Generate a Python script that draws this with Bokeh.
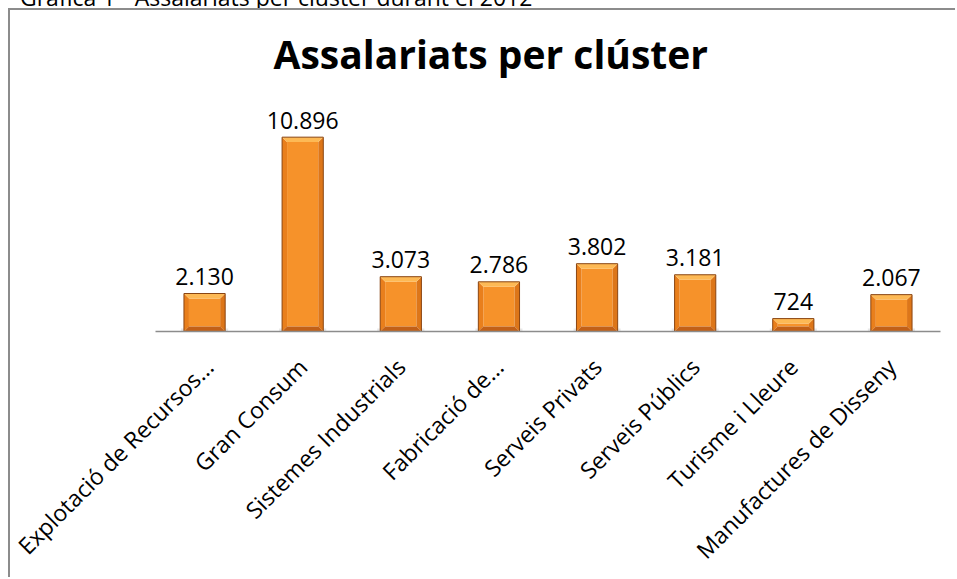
import math
from bokeh.plotting import figure
from bokeh.models import Range1d, FixedTicker, Div
from bokeh.layouts import column
from bokeh.core.properties import value
from bokeh.embed import file_html
from bokeh.resources import INLINE

caption = "Gràfica 1 - Assalariats per clúster durant el 2012"
categories = ["Explotació de Recursos...", "Gran Consum", "Sistemes Industrials",
              "Fabricació de...", "Serveis Privats", "Serveis Públics",
              "Turisme i Lleure", "Manufactures de Disseny"]
employees = [2130, 10896, 3073, 2786, 3802, 3181, 724, 2067]
value_labels = ["2.130", "10.896", "3.073", "2.786", "3.802", "3.181", "724", "2.067"]

xs = list(range(len(categories)))
Y_END = 13400

W, H = 947, 569
p = figure(width=W, height=H, output_backend="svg", toolbar_location=None,
           x_range=Range1d(-0.5, len(categories) - 0.5), y_range=Range1d(0, Y_END),
           min_border_left=145, min_border_right=17, min_border_top=82, min_border_bottom=246)
p.styles = {"margin-left": "8px",
            "border-left": "2px solid #8c8c8c", "border-top": "2px solid #8c8c8c"}
p.outline_line_color = None
p.grid.visible = False
p.yaxis.visible = False

p.title.text = "Assalariats per clúster"
p.title.text_font = "Open Sans"
p.title.text_font_style = "bold"
p.title.text_font_size = "39px"
p.title.align = "left"
p.title.offset = 118
p.title.standoff = 25
p.title.text_color = "black"

frame_w = 940 - 155
frame_h = 333 - 92
px_x = len(categories) / frame_w
px_y = Y_END / frame_h
bw = 0.42
bx = 5 * px_x
by = 5 * px_y

top_x, top_y, left_x, left_y, right_x, right_y, bot_x, bot_y = [], [], [], [], [], [], [], []
face_l, face_r, face_b, face_t = [], [], [], []
for x, v in zip(xs, employees):
    l, r = x - bw / 2, x + bw / 2
    b_ = min(by, v / 2.5)
    top_x.append([l, r, r - bx, l + bx]); top_y.append([v, v, v - b_, v - b_])
    bot_x.append([l, r, r - bx, l + bx]); bot_y.append([0, 0, b_, b_])
    left_x.append([l, l + bx, l + bx, l]); left_y.append([0, b_, v - b_, v])
    right_x.append([r, r - bx, r - bx, r]); right_y.append([0, b_, v - b_, v])
    face_l.append(l + bx); face_r.append(r - bx); face_b.append(b_); face_t.append(v - b_)

p.vbar(x=xs, top=[px_y * 3] * len(xs), bottom=[-px_y * 3] * len(xs),
       width=bw + 0.06, fill_color="#bdbdbd", fill_alpha=0.35, line_color=None)
p.quad(left=face_l, right=face_r, bottom=face_b, top=face_t, fill_color="#F6922A", line_color=None)
p.patches(left_x, left_y, fill_color="#E97F1C", line_color=None)
p.patches(right_x, right_y, fill_color="#DD7619", line_color=None)
p.patches(bot_x, bot_y, fill_color="#C26017", line_color=None)
p.patches(top_x, top_y, fill_color="#FDB955", line_color=None)
p.vbar(x=xs, top=employees, width=bw, fill_color=None, line_color="#8A4512", line_width=1)

p.text(x=xs, y=employees, text=value_labels, text_align="center", text_baseline="alphabetic",
       y_offset=-17, text_font=value("Open Sans"), text_font_size="23px", text_color="black")

ax = p.xaxis[0]
ax.ticker = FixedTicker(ticks=xs)
ax.major_label_overrides = {i: c for i, c in enumerate(categories)}
ax.major_label_orientation = math.pi / 4
ax.major_label_text_font = "Open Sans"
ax.major_label_text_font_size = "23px"
ax.major_label_text_color = "black"
ax.major_label_standoff = 25
ax.axis_line_color = "#8c8c8c"
ax.axis_line_width = 1.5
ax.major_tick_line_color = None
ax.minor_tick_line_color = None

cap = Div(text=('<div style="position:relative; top:-14px; left:20px; white-space:nowrap; '
                'font-family:\'Open Sans\'; font-size:23px; line-height:23px; color:#000;">'
                + caption + '</div>'),
          width=949, height=8, styles={"overflow": "hidden", "margin": "0", "padding": "0"})

layout = column(cap, p, spacing=0)
open("out.html", "w").write(file_html(layout, INLINE))
